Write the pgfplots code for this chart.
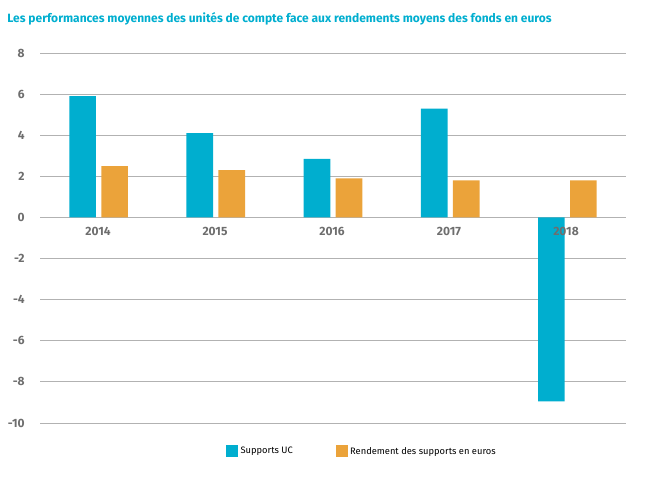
\documentclass[border=0pt]{standalone}
\usepackage{pgfplots}
\pgfplotsset{compat=1.18}
\usepackage{fontspec}
\setmainfont{Fira Sans}
\definecolor{cy}{HTML}{00AECF}
\definecolor{or}{HTML}{EBA33A}
\definecolor{tx}{HTML}{6E6E6E}
\begin{document}
\begin{tikzpicture}
\useasboundingbox (-30pt,-42.75pt) rectangle (465pt,317.25pt);
\begin{axis}[
  at={(0,0)}, anchor=south west,
  scale only axis, width=439.5pt, height=277.5pt,
  xmin=-0.5, xmax=4.5, ymin=-10, ymax=8,
  ytick={-10,-8,...,8},
  xtick=\empty,
  axis line style={draw=none},
  ymajorgrids, grid style={gray!60, line width=0.6pt},
  major tick length=0pt,
  enlargelimits=false,
  /pgf/number format/assume math mode=true,
  tick label style={font=\bfseries\small, text=tx},
  yticklabel style={xshift=-8pt},
  legend style={draw=none, at={(0.31,-0.05)}, anchor=north west, legend columns=2, font=\scriptsize, text=black, /tikz/every even column/.append style={column sep=30pt}},
  legend image code/.code={\fill[#1] (0pt,-4pt) rectangle (9pt,5pt);},
]
\addplot[ybar, draw=none, fill=cy, bar shift=-12pt, bar width=20pt] coordinates {(0,5.9) (1,4.1) (2,2.85) (3,5.3) (4,-8.95)};
\addplot[ybar, draw=none, fill=or, bar shift=12pt, bar width=20pt] coordinates {(0,2.5) (1,2.3) (2,1.9) (3,1.8) (4,1.8)};
\legend{Supports UC, Rendement des supports en euros}
\end{axis}
\foreach \x/\l in {0/2014,1/2015,2/2016,3/2017,4/2018}
  \node[font=\bfseries\small, text=tx] at ({(58+117*\x)*0.75pt},{(423-231)*0.75pt}) {\l};
\node[anchor=west, font=\bfseries\small, text=cy] at (-28pt,303pt) {Les performances moyennes des unités de compte face aux rendements moyens des fonds en euros};
\end{tikzpicture}
\end{document}
